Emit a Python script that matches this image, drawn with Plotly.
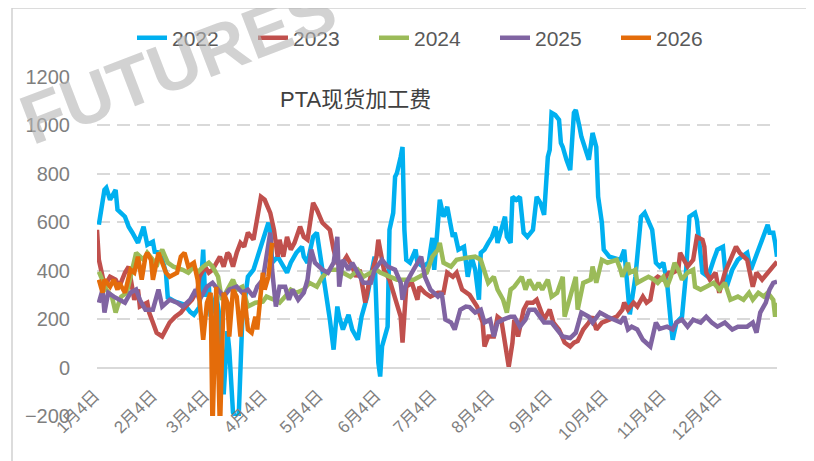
import plotly.graph_objects as go

# ---------------- data (day of year, value) ----------------
tick_days = [3, 34, 62, 93, 123, 154, 184, 215, 246, 276, 307, 337]
tick_labels = ["1月4日", "2月4日", "3月4日", "4月4日", "5月4日", "6月4日",
               "7月4日", "8月4日", "9月4日", "10月4日", "11月4日", "12月4日"]

days_2022 = [1, 4, 5, 7, 10, 11, 15, 17, 19, 22, 25, 27, 30, 31, 34, 37, 38, 42, 47, 50, 52, 55, 57, 58, 60, 61,
             64, 66, 68, 70, 71, 73, 75, 76, 78, 81, 84, 89, 92, 93, 94, 97, 102, 104, 107, 110, 111, 113, 116,
             118, 120, 122, 125, 127, 129, 130, 132, 135, 137, 140, 142, 145, 148, 149, 151, 152, 153, 156, 157,
             159, 160, 161, 163, 164, 165, 166, 168, 171, 172, 175, 178, 180, 181, 184, 186, 188, 191, 192, 194,
             197, 199, 201, 203, 205, 206, 208, 210, 212, 214, 215, 217, 219, 220, 222, 223, 225, 227, 229, 231,
             234, 236, 238, 240, 242, 243, 244, 246, 248, 249, 250, 252, 254, 256, 257, 259, 260, 264, 266, 268,
             269, 271, 272, 275, 281, 283, 285, 286, 289, 292, 294, 296, 298, 300, 302, 304, 306, 308, 309, 311,
             314, 316, 318, 321, 322, 325, 328, 331, 333, 336, 338, 341, 344, 346, 349, 351, 353, 356, 359, 360,
             361, 363, 364, 365]
vals_2022 = [590, 734, 742, 693, 734, 652, 623, 582, 557, 515, 582, 507, 520, 478, 474, 392, 289, 272, 260, 230, 218, 250, 487, 293, 342, 210,
             300, 200, -111, 150, 74, -185, -214, -214, 200, 375, 404, 520, 598, 569, 433, 458, 392, 433, 474, 499, 458, 433, 540,
             557, 458, 363, 198, 74, 252, 210, 157, 218, 157, 115, 210, 293, 433, 458, 21, -37, 87, 169, 569,
             639, 788, 804, 870, 911, 569, 445, 433, 487, 433, 417, 433, 536, 404, 693, 623, 664, 540, 557, 487,
             499, 375, 458, 404, 280, 474, 487, 515, 540, 582, 515, 569, 623, 540, 515, 705, 693, 705, 557, 540,
             569, 705, 680, 631, 870, 899, 1052, 1043, 1023, 928, 911, 858, 816, 1052, 1064, 994, 953, 858, 969, 911,
             705, 598, 487, 458, 445, 487, 300, 220, 375, 623, 639, 600, 569, 433, 417, 433, 350, 186, 115, 186,
             210, 375, 623, 639, 610, 392, 375, 445, 487, 499, 334, 404, 445, 458, 474, 404, 445, 499, 569, 590,
             557, 557, 515, 458]

days_2023 = [0, 1, 3, 4, 7, 10, 12, 15, 17, 19, 20, 22, 23, 27, 28, 30, 32, 35, 37, 39, 42, 45, 47, 51, 54, 55,
             58, 60, 62, 65, 66, 68, 70, 71, 73, 75, 77, 79, 81, 84, 86, 88, 90, 93, 95, 97, 98, 100, 102, 104,
             106, 109, 111, 113, 116, 118, 121, 125, 127, 129, 132, 134, 137, 139, 141, 144, 146, 148, 150, 151,
             154, 157, 160, 163, 164, 166, 169, 172, 173, 176, 179, 183, 186, 188, 191, 193, 196, 199, 200, 204,
             207, 208, 210, 213, 215, 217, 219, 221, 223, 224, 226, 229, 231, 234, 236, 238, 240, 243, 245, 248,
             251, 254, 256, 258, 261, 264, 266, 268, 271, 275, 279, 282, 283, 285, 288, 290, 293, 295, 297, 299,
             301, 304, 307, 309, 312, 313, 317, 320, 322, 325, 326, 327, 329, 332, 334, 337, 340, 343, 345, 349,
             352, 354, 357, 360, 362, 365]
vals_2023 = [569, 445, 375, 334, 375, 363, 334, 392, 417, 309, 280, 322, 252, 268, 227, 186, 144, 128, 157, 186, 210, 227, 247, 280, 322, 375,
             417, 392, 404, 445, 458, 417, 474, 466, 417, 474, 515, 499, 557, 528, 610, 705, 693, 639, 569, 458, 528, 458, 540, 487,
             515, 582, 540, 528, 680, 652, 598, 569, 487, 433, 433, 458, 417, 375, 404, 268, 350, 404, 458, 528,
             404, 363, 293, 210, 103, 334, 350, 280, 334, 309, 293, 309, 309, 392, 375, 392, 322, 309, 300, 252,
             186, 87, 128, 128, 210, 198, 103, 4, 103, 198, 128, 239, 268, 268, 280, 239, 198, 239, 186, 157,
             103, 87, 103, 110, 157, 186, 210, 157, 186, 198, 210, 239, 268, 239, 268, 252, 293, 268, 280, 363,
             375, 363, 392, 392, 404, 474, 417, 445, 540, 528, 499, 392, 363, 392, 309, 392, 445, 499, 474, 445,
             334, 392, 363, 392, 404, 437]

days_2024 = [1, 3, 5, 8, 10, 11, 13, 16, 19, 21, 25, 27, 30, 32, 34, 35, 38, 41, 46, 49, 52, 54, 57, 60, 62, 65,
             67, 70, 73, 75, 78, 81, 85, 89, 91, 95, 98, 101, 104, 107, 111, 114, 118, 121, 125, 129, 132, 136,
             140, 143, 147, 150, 152, 157, 161, 164, 170, 173, 177, 180, 183, 184, 186, 190, 193, 198, 203, 206,
             208, 210, 213, 215, 218, 220, 222, 224, 228, 230, 232, 235, 237, 239, 242, 244, 247, 250, 251, 254,
             256, 257, 258, 261, 265, 266, 268, 271, 274, 279, 281, 282, 285, 286, 289, 290, 293, 296, 299, 301,
             304, 306, 308, 310, 312, 314, 317, 320, 321, 324, 327, 331, 334, 337, 340, 344, 347, 350, 352, 355,
             358, 360, 363, 364, 365]
vals_2024 = [396, 363, 322, 293, 227, 252, 293, 309, 417, 474, 445, 474, 445, 417, 474, 487, 433, 417, 404, 392, 417, 392, 417, 433, 417, 375,
             280, 322, 363, 322, 334, 252, 268, 272, 293, 280, 268, 293, 322, 309, 322, 350, 334, 375, 404, 404, 392, 375,
             404, 375, 392, 404, 392, 375, 363, 363, 363, 375, 392, 458, 487, 515, 433, 417, 445, 453, 458, 445,
             392, 350, 375, 322, 280, 227, 322, 334, 375, 322, 363, 322, 350, 322, 363, 293, 309, 375, 210, 300,
             350, 375, 239, 350, 363, 417, 350, 445, 433, 445, 404, 375, 433, 392, 404, 350, 363, 375, 363, 350,
             375, 334, 375, 433, 404, 363, 392, 404, 334, 322, 334, 350, 322, 350, 280, 293, 280, 309, 280, 309,
             293, 309, 280, 210, 268]

days_2025 = [1, 3, 4, 6, 9, 12, 15, 18, 21, 23, 26, 30, 33, 35, 39, 43, 46, 50, 53, 55, 59, 62, 65, 68, 71, 75,
             78, 81, 84, 86, 89, 92, 93, 94, 96, 98, 101, 103, 105, 108, 111, 113, 115, 117, 121, 124, 127, 129,
             130, 132, 135, 137, 140, 143, 147, 149, 153, 156, 160, 163, 164, 166, 169, 172, 174, 176, 179, 183,
             185, 187, 190, 192, 195, 198, 200, 203, 206, 208, 211, 213, 215, 218, 222, 224, 227, 230, 232, 235,
             238, 240, 244, 247, 250, 254, 257, 260, 264, 266, 270, 274, 277, 281, 283, 285, 287, 290, 293, 297,
             300, 302, 306, 309, 311, 314, 317, 320, 324, 327, 330, 333, 337, 341, 344, 346, 349, 352, 354, 356,
             359, 361, 363, 365]
vals_2025 = [268, 322, 227, 309, 293, 280, 268, 309, 322, 280, 239, 239, 322, 252, 280, 268, 252, 280, 322, 280, 334, 350, 322, 293, 322, 334,
             309, 322, 293, 334, 363, 528, 557, 404, 252, 334, 334, 280, 322, 280, 309, 363, 487, 433, 404, 392, 433, 540,
             334, 445, 404, 433, 392, 350, 350, 404, 445, 417, 404, 350, 280, 350, 392, 433, 458, 375, 322, 293,
             309, 198, 186, 157, 239, 252, 250, 227, 239, 186, 198, 128, 186, 198, 210, 210, 169, 198, 239, 239,
             210, 186, 186, 157, 128, 122, 144, 227, 210, 186, 227, 210, 198, 186, 210, 157, 169, 157, 115, 87,
             186, 160, 169, 157, 186, 198, 169, 198, 186, 210, 186, 169, 186, 157, 169, 169, 169, 186, 144, 227,
             268, 322, 350, 355]

days_2026 = [1, 3, 4, 7, 9, 11, 12, 15, 18, 20, 22, 24, 26, 27, 29, 30, 33, 35, 37, 39, 43, 45, 47, 49, 52, 54,
             55, 57, 59, 61, 62, 64, 66, 68, 70, 71, 73, 75, 77, 79, 81, 83, 85, 86, 89, 90, 92, 94]
vals_2026 = [363, 309, 363, 334, 363, 322, 350, 309, 404, 392, 458, 363, 458, 474, 445, 363, 474, 433, 392, 375, 392, 458, 474, 417, 433, 363,
             268, 115, 268, 309, -260, 334, -260, 309, 268, 128, 322, 293, 128, 309, 157, 144, 210, 157, 392, 322, 375, 515]

series = [
    ("2022", days_2022, vals_2022, "#00B0F0"),
    ("2023", days_2023, vals_2023, "#C0504D"),
    ("2024", days_2024, vals_2024, "#9BBB59"),
    ("2025", days_2025, vals_2025, "#8064A2"),
    ("2026", days_2026, vals_2026, "#E46C0A"),
]

FONT = "Liberation Sans, Arial, Noto Sans CJK SC, sans-serif"

fig = go.Figure()
for name, d, v, c in series:
    fig.add_trace(go.Scatter(x=d, y=v, mode="lines", name=name,
                             line=dict(color=c, width=4.5)))

# the page body has an 8px margin, so the figure is laid out 8px smaller
OFF = 8
W, H = 814 - OFF, 461 - OFF
L, R, T, B = 97 - OFF, 37, 77 - OFF, 45
pw, ph = W - L - R, H - T - B


def px(xp):  # screen pixel -> paper fraction
    return (xp - OFF - L) / pw


def py(yp):
    return (H - B - (yp - OFF)) / ph


fig.update_layout(
    width=W, height=H,
    margin=dict(l=L, r=R, t=T, b=B, autoexpand=False),
    paper_bgcolor="white", plot_bgcolor="white",
    font=dict(family=FONT, color="#7f7f7f"),
    showlegend=True,
    legend=dict(orientation="h", x=px(132), y=py(38), xanchor="left", yanchor="middle",
                font=dict(size=21, color="#595959", family=FONT),
                entrywidth=76, entrywidthmode="pixels", bgcolor="rgba(0,0,0,0)"),
    xaxis=dict(range=[0, 365], tickmode="array", tickvals=tick_days, ticktext=tick_labels,
               tickangle=-45, showgrid=False, zeroline=False, showline=False,
               anchor="free", position=py(368),
               ticks="outside", ticklen=10, tickcolor="rgba(0,0,0,0)",
               ticklabelshift=-8,
               tickfont=dict(size=17, color="#7f7f7f", family=FONT)),
    yaxis=dict(range=[-200, 1200], tickmode="array", tickvals=list(range(-200, 1201, 200)),
               showgrid=True, gridcolor="#d9d9d9", gridwidth=1.5, griddash="13px,7px",
               zeroline=True, zerolinecolor="#d9d9d9", zerolinewidth=1.5,
               showline=False, ticks="outside", ticklen=22, tickcolor="rgba(0,0,0,0)",
               tickfont=dict(size=20, color="#7f7f7f", family=FONT)),
)

# watermark
fig.add_annotation(text="<b>FUTURES</b>", xref="paper", yref="paper", x=px(178), y=py(64),
                   xanchor="center", yanchor="middle",
                   showarrow=False, textangle=-21,
                   font=dict(size=70, color="rgba(180,180,180,0.6)", family="Liberation Sans, Arial"))
# title
fig.add_annotation(text="PTA现货加工费", xref="paper", yref="paper", x=px(355), y=py(100),
                   xanchor="center", yanchor="middle",
                   showarrow=False, font=dict(size=22, color="#404040", family=FONT))
# chart border
fig.add_shape(type="line", xref="paper", yref="paper", x0=px(12), x1=px(12), y0=py(470), y1=py(8),
              line=dict(color="#d0d0d0", width=1.5))
fig.add_shape(type="line", xref="paper", yref="paper", x0=px(12), x1=px(830), y0=py(8), y1=py(8),
              line=dict(color="#d0d0d0", width=1.5))

fig.write_html("out.html")
